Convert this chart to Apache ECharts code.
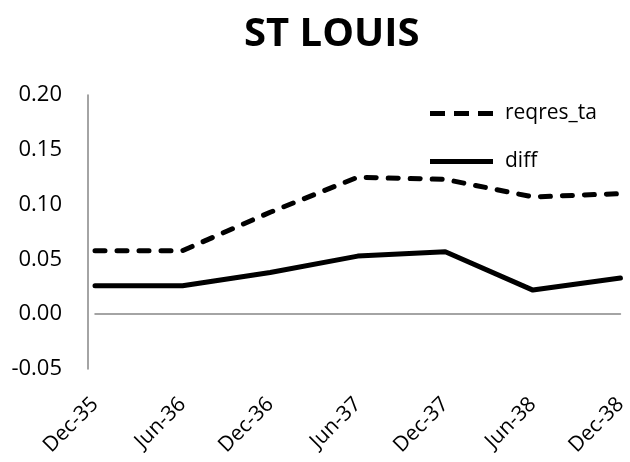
<!DOCTYPE html>
<html lang="en">
<head>
  <meta charset="UTF-8">
  <title>ST LOUIS</title>
  <script src="https://cdn.jsdelivr.net/npm/echarts@6/dist/echarts.min.js"></script>
  <style>
    html, body { margin: 0; padding: 0; background: #fff; }
    #chart { width: 630px; height: 462px; }
  </style>
</head>
<body>
<div id="chart"></div>
<script>
  // data
  const categories = ['Dec-35', 'Jun-36', 'Dec-36', 'Jun-37', 'Dec-37', 'Jun-38', 'Dec-38'];
  const reqresTa = [0.058, 0.058, 0.093, 0.125, 0.123, 0.107, 0.110];
  const diff = [0.026, 0.026, 0.038, 0.053, 0.057, 0.022, 0.033];

  const font = 'Open Sans';
  // legend keys: three dashes / one solid bar
  const dashIcon = 'path://M0,0h15v5h-15z M24,0h15v5h-15z M48,0h15v5h-15z';
  const solidIcon = 'path://M0,0h63v5h-63z';

  let chart = echarts.init(document.getElementById('chart'));
  let option = {
    animation: false,
    title: {
      text: 'ST LOUIS',
      left: 239,
      top: 10,
      textStyle: { fontFamily: font, fontWeight: 'bold', fontSize: 40, color: '#000' }
    },
    legend: {
      orient: 'vertical',
      left: 425,
      top: 98,
      itemWidth: 63,
      itemHeight: 5,
      itemGap: 27,
      textStyle: { fontFamily: font, fontSize: 21, color: '#000', padding: [0, 0, 0, 7] },
      data: [
        { name: 'reqres_ta', icon: dashIcon },
        { name: 'diff', icon: solidIcon }
      ]
    },
    grid: { left: 95, right: 7, top: 95, bottom: 93 },
    xAxis: {
      type: 'category',
      data: categories,
      boundaryGap: false,
      axisLine: { onZero: true, lineStyle: { color: '#868686', width: 1.5 } },
      axisTick: { show: false },
      axisLabel: { rotate: 45, margin: 32, fontFamily: font, fontSize: 21, color: '#000', interval: 0 }
    },
    yAxis: {
      type: 'value',
      min: -0.05,
      max: 0.20,
      interval: 0.05,
      offset: 7,
      axisLine: { show: true, lineStyle: { color: '#868686', width: 1.5 } },
      axisTick: { show: false },
      splitLine: { show: false },
      axisLabel: {
        margin: 26, fontFamily: font, fontSize: 22, color: '#000',
        formatter: function (v) { return v.toFixed(2); }
      }
    },
    series: [
      {
        name: 'reqres_ta',
        type: 'line',
        data: reqresTa,
        symbol: 'none',
        lineStyle: { color: '#000', width: 5, type: [10, 12], cap: 'round' },
        itemStyle: { color: '#000' }
      },
      {
        name: 'diff',
        type: 'line',
        data: diff,
        symbol: 'none',
        lineStyle: { color: '#000', width: 5, cap: 'round' },
        itemStyle: { color: '#000' }
      }
    ]
  };
  chart.setOption(option);
</script>
</body>
</html>
